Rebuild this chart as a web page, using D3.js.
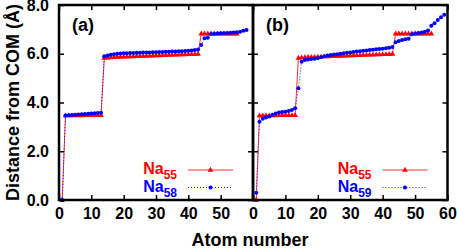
<!DOCTYPE html>
<html>
<head>
<meta charset="utf-8">
<script src="https://cdn.jsdelivr.net/npm/d3@7"></script>
<style>
  body { margin: 0; background: #fff; }
  text { font-family: "Liberation Sans", Arial, sans-serif; font-weight: bold; }
</style>
</head>
<body>
<div id="wrapper"></div>
<script>
// distance of each atom from centre of mass (angstrom), atoms numbered from 1
const na55 = [0.00,
  3.46,3.46,3.46,3.46,3.46,3.46,3.47,3.47,3.47,3.47,3.47,3.47,
  5.82,5.83,5.84,5.85,5.86,5.86,5.87,5.87,5.88,5.88,5.89,5.89,5.90,5.90,5.91,
  5.91,5.92,5.92,5.93,5.93,5.94,5.94,5.95,5.95,5.96,5.96,5.97,5.97,5.98,5.99,
  6.82,6.82,6.82,6.82,6.82,6.82,6.82,6.82,6.82,6.82,6.82,6.82];
const na58 = [0.00,
  3.47,3.48,3.49,3.50,3.51,3.52,3.53,3.54,3.55,3.56,3.57,3.58,
  5.90,5.93,5.96,5.98,6.00,6.01,6.02,6.02,6.03,6.03,6.04,6.04,6.05,6.05,6.05,
  6.06,6.06,6.07,6.07,6.08,6.08,6.09,6.09,6.10,6.10,6.11,6.12,6.13,6.15,6.17,
  6.36,6.64,6.66,
  6.81,6.82,6.83,6.84,6.84,6.85,6.86,6.87,6.88,6.90,6.94,6.97];
const na59 = [0.30,
  3.21,3.33,3.38,3.43,3.50,3.55,3.59,3.61,3.62,3.65,3.69,3.76,
  4.58,5.67,5.74,5.76,5.78,5.80,5.83,5.86,5.90,5.93,5.95,5.97,5.98,6.00,6.02,
  6.04,6.05,6.07,6.09,6.10,6.12,6.13,6.15,6.16,6.18,6.20,6.21,6.23,6.25,6.28,
  6.47,6.52,6.56,6.59,6.62,
  6.80,6.83,6.85,6.87,6.90,6.95,7.15,7.25,7.38,7.50,7.60];

const panels = [
  {label: "(a)", other: na58, otherName: "58", x0: 59, x1: 253, yLabels: true},
  {label: "(b)", other: na59, otherName: "59", x0: 253, x1: 447.5, yLabels: false}
];
const xTicks = [0, 10, 20, 30, 40, 50, 60];
const yTicks = [0, 2, 4, 6, 8];

const width = 457, height = 249;
const plotTop = 5, plotBottom = 200;

const svg = d3.select("#wrapper").append("svg")
  .attr("width", width)
  .attr("height", height);

const y = d3.scaleLinear().domain([0, 8]).range([plotBottom, plotTop]);

const tri = d3.symbol().type(d3.symbolTriangle).size(14);

panels.forEach((p, i) => {
  const x = d3.scaleLinear().domain([0, 60]).range([p.x0, p.x1]);
  const g = svg.append("g");

  // data lines
  const line = d3.line().x((d, k) => x(k + 1)).y(d => y(d));
  g.append("path").datum(na55)
    .attr("d", line).attr("fill", "none")
    .attr("stroke", "#ff3030").attr("stroke-width", 1);
  g.selectAll(".tri").data(na55).enter().append("path")
    .attr("d", tri)
    .attr("transform", (d, k) => `translate(${x(k + 1)},${y(d)})`)
    .attr("fill", "#ff0000");

  g.append("path").datum(p.other)
    .attr("d", line).attr("fill", "none")
    .attr("stroke", "#2020ff").attr("stroke-width", 1)
    .attr("stroke-dasharray", "1,2");
  g.selectAll(".dot").data(p.other).enter().append("circle")
    .attr("cx", (d, k) => x(k + 1))
    .attr("cy", d => y(d))
    .attr("r", 2)
    .attr("fill", "#0000ff");

  // axes with inward ticks on every side
  const xLabelTicks = i === 0 ? xTicks.slice(0, 6) : xTicks;
  const bAxis = g.append("g").attr("transform", `translate(0,${plotBottom})`)
    .call(d3.axisBottom(x).tickValues(xTicks).tickSize(-5).tickPadding(8)
      .tickFormat(d => xLabelTicks.includes(d) ? d : ""));
  g.append("g").attr("transform", `translate(0,${plotTop})`)
    .call(d3.axisTop(x).tickValues(xTicks).tickSize(-5).tickFormat(""));
  const lAxis = g.append("g").attr("transform", `translate(${p.x0},0)`)
    .call(d3.axisLeft(y).tickValues(yTicks).tickSize(-5).tickPadding(10)
      .tickFormat(d => p.yLabels ? d3.format(".1f")(d) : ""));
  g.append("g").attr("transform", `translate(${p.x1},0)`)
    .call(d3.axisRight(y).tickValues(yTicks).tickSize(-5).tickFormat(""));

  g.selectAll(".domain").remove();
  g.selectAll(".tick line").attr("stroke", "#000").attr("stroke-width", 1.5);
  bAxis.selectAll("text").attr("font-size", 16).attr("fill", "#000")
    .attr("font-family", "Liberation Sans, Arial, sans-serif").attr("font-weight", "bold");
  lAxis.selectAll("text").attr("font-size", 16).attr("fill", "#000")
    .attr("font-family", "Liberation Sans, Arial, sans-serif").attr("font-weight", "bold");

  g.append("rect")
    .attr("x", p.x0).attr("y", plotTop)
    .attr("width", p.x1 - p.x0).attr("height", plotBottom - plotTop)
    .attr("fill", "none").attr("stroke", "#000").attr("stroke-width", 2.5);

  g.append("text").attr("x", p.x0 + 13).attr("y", 31)
    .attr("font-size", 18).text(p.label);

  // legend
  const lx = p.x1 - 20;
  const legend = [
    {name: "55", color: "#ff0000", yy: 170, dash: null, stroke: "#ff3030"},
    {name: p.otherName, color: "#0000ff", yy: 187.5, dash: "1,2", stroke: "#2020ff"}
  ];
  legend.forEach((l, k) => {
    const t = g.append("text").attr("x", lx - 56).attr("y", l.yy + 4)
      .attr("text-anchor", "end").attr("fill", l.color).attr("font-size", 16);
    t.append("tspan").text("Na");
    t.append("tspan").attr("font-size", 12).attr("dy", 5).text(l.name);
    g.append("line").attr("x1", lx - 45).attr("x2", lx)
      .attr("y1", l.yy).attr("y2", l.yy)
      .attr("stroke", l.stroke).attr("stroke-width", 1)
      .attr("stroke-dasharray", l.dash);
    if (k === 0) {
      g.append("path").attr("d", tri)
        .attr("transform", `translate(${lx - 22.5},${l.yy})`).attr("fill", l.color);
    } else {
      g.append("circle").attr("cx", lx - 22.5).attr("cy", l.yy).attr("r", 2).attr("fill", l.color);
    }
  });
});

svg.append("text")
  .attr("transform", `translate(19,${(plotTop + plotBottom) / 2}) rotate(-90)`)
  .attr("text-anchor", "middle").attr("font-size", 18)
  .text("Distance from COM (Å)");

svg.append("text")
  .attr("x", 250).attr("y", 246)
  .attr("text-anchor", "middle").attr("font-size", 18)
  .text("Atom number");
</script>
</body>
</html>
